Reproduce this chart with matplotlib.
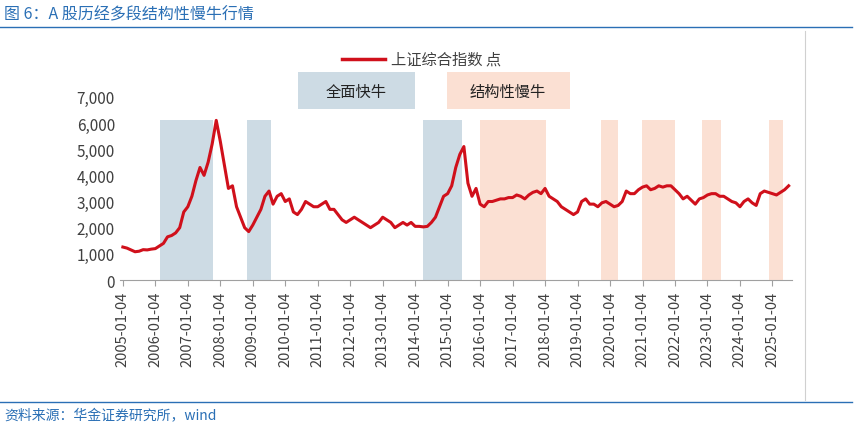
import matplotlib
matplotlib.use("Agg")
import matplotlib.pyplot as plt
import pandas as pd
from matplotlib.lines import Line2D
from matplotlib.patches import Rectangle

plt.rcParams["font.family"] = ["Noto Sans CJK SC", "DejaVu Sans"]

values = [
    1260, 1220, 1150, 1080, 1100, 1160, 1150, 1180,
    1200, 1300, 1400, 1650, 1700, 1800, 2000, 2600,
    2800, 3200, 3800, 4300, 4000, 4500, 5200, 6100,
    5300, 4400, 3500, 3600, 2800, 2400, 2000, 1850,
    2100, 2400, 2700, 3200, 3400, 2900, 3200, 3300,
    3000, 3100, 2600, 2500, 2700, 3000, 2900, 2800,
    2800, 2900, 3000, 2700, 2700, 2500, 2300, 2200,
    2300, 2400, 2300, 2200, 2100, 2000, 2100, 2200,
    2400, 2300, 2200, 2000, 2100, 2200, 2100, 2200,
    2050, 2050, 2030, 2050, 2200, 2400, 2800, 3200,
    3300, 3600, 4300, 4800, 5100, 3700, 3200, 3500,
    2900, 2800, 3000, 3000, 3050, 3100, 3100, 3150,
    3150, 3250, 3200, 3100, 3250, 3350, 3400, 3300,
    3500, 3200, 3100, 3000, 2800, 2700, 2600, 2500,
    2600, 3000, 3100, 2900, 2900, 2800, 2950, 3000,
    2900, 2800, 2850, 3000, 3400, 3300, 3300, 3450,
    3550, 3600, 3450, 3500, 3600, 3550, 3600, 3600,
    3450, 3300, 3100, 3200, 3050, 2900, 3100, 3150,
    3250, 3300, 3300, 3200, 3200, 3100, 3000, 2950,
    2800, 3000, 3100, 2950, 2850, 3300, 3400, 3350,
    3300, 3250, 3350, 3450, 3600,
]
dates = pd.to_datetime("2005-01-04") + pd.to_timedelta([i * 365.25 / 8 for i in range(len(values))], unit="D")

fast_periods = [("2006-03-01", "2007-10-15"), ("2008-11-01", "2009-08-01"), ("2014-04-01", "2015-06-10")]
slow_periods = [("2016-01-01", "2018-01-20"), ("2019-09-20", "2020-04-01"), ("2021-01-01", "2022-01-01"),
                ("2022-11-01", "2023-06-01"), ("2024-12-01", "2025-05-01")]
tick_labels = [f"{y}-01-04" for y in range(2005, 2026)]

fig = plt.figure(figsize=(8.56, 4.31), dpi=100)
ax = fig.add_axes([0.14, 0.348, 0.785, 0.425])
blue_c = "#cddbe4"
orange_c = "#fbe0d3"
for s, e in fast_periods:
    ax.axvspan(pd.to_datetime(s), pd.to_datetime(e), ymax=6100 / 7000, color=blue_c, lw=0)
for s, e in slow_periods:
    ax.axvspan(pd.to_datetime(s), pd.to_datetime(e), ymax=6100 / 7000, color=orange_c, lw=0)
ax.plot(dates, values, color="#d0101b", lw=2.2)

ax.set_ylim(0, 7000)
ax.set_xlim(pd.to_datetime("2004-12-01"), pd.to_datetime("2025-08-10"))
ax.set_yticks(range(0, 7001, 1000))
ax.set_yticklabels([f"{v:,}" for v in range(0, 7001, 1000)], fontsize=11, color="#404040")
ax.set_xticks(pd.to_datetime(tick_labels))
ax.set_xticklabels(tick_labels, rotation=90, fontsize=10.5, color="#404040")
for sp in ["top", "right", "left"]:
    ax.spines[sp].set_visible(False)
ax.spines["bottom"].set_color("#a0a0a0")
ax.tick_params(axis="y", length=0)
ax.tick_params(axis="x", color="#a0a0a0", length=4)

fig.text(0.005, 0.965, "图 6：A 股历经多段结构性慢牛行情", color="#2a6fb5", fontsize=11.5, va="center")
fig.add_artist(Line2D([0.0, 0.995], [0.935, 0.935], color="#2a6fb5", lw=1))
fig.add_artist(Line2D([0.0, 0.995], [0.065, 0.065], color="#2a6fb5", lw=1))
fig.text(0.005, 0.035, "资料来源：华金证券研究所，wind", color="#2a6fb5", fontsize=10, va="center", style="italic")
fig.add_artist(Line2D([0.94, 0.94], [0.07, 0.925], color="#d0d0d0", lw=0.8))

fig.add_artist(Line2D([0.40, 0.45], [0.86, 0.86], color="#d0101b", lw=2.5))
fig.text(0.457, 0.86, "上证综合指数 点", fontsize=11, color="#404040", va="center")
fig.add_artist(Rectangle((298 / 856, 1 - 110 / 431), 117 / 856, 37 / 431, color=blue_c, lw=0))
fig.text(356 / 856, 1 - 92 / 431, "全面快牛", fontsize=11, ha="center", va="center", color="#222222")
fig.add_artist(Rectangle((447 / 856, 1 - 110 / 431), 123 / 856, 37 / 431, color=orange_c, lw=0))
fig.text(508 / 856, 1 - 92 / 431, "结构性慢牛", fontsize=11, ha="center", va="center", color="#222222")

fig.savefig("out.png", dpi=100)
